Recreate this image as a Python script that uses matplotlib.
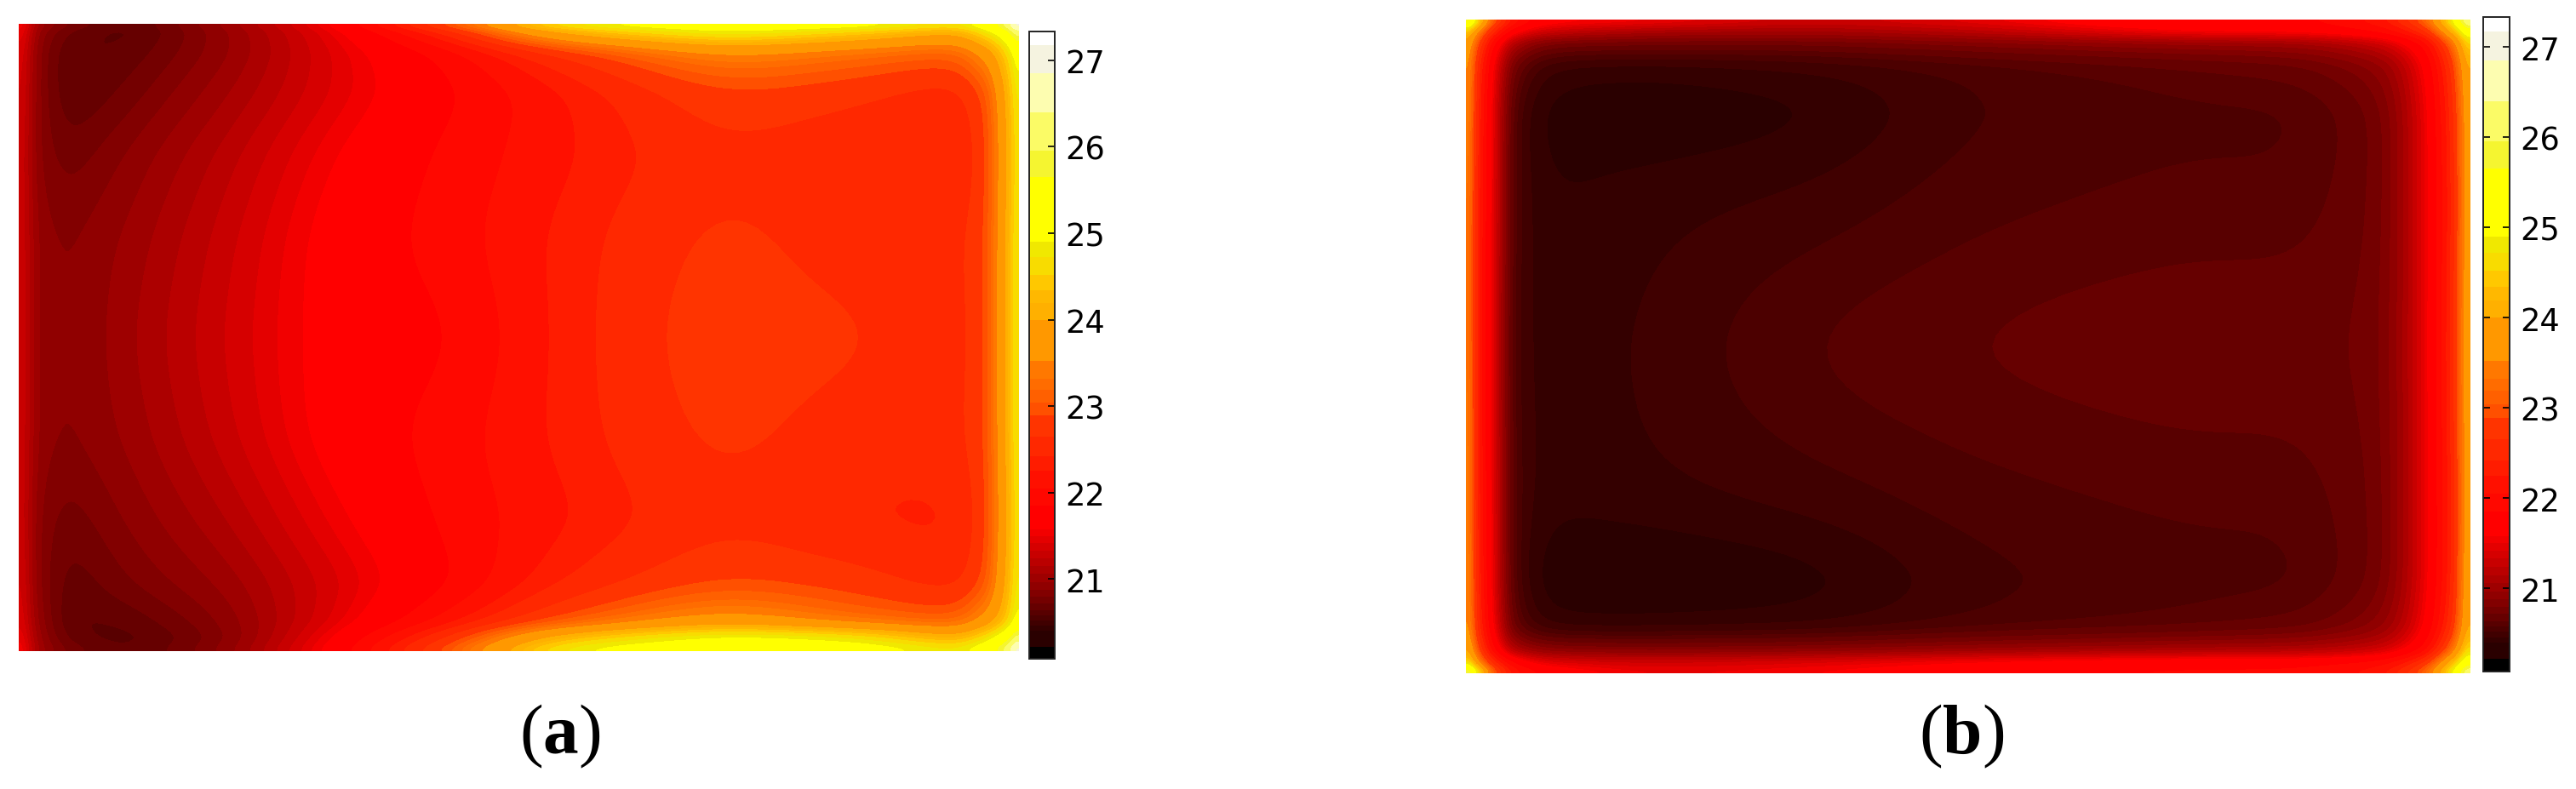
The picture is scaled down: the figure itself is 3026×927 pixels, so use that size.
#!/usr/bin/env python3
import numpy as np
import matplotlib
matplotlib.use('Agg')
import matplotlib.pyplot as plt
from matplotlib.colors import ListedColormap, BoundaryNorm

W, H = 3026, 928
UPSAMPLE = 14
HALF_WINDOW = 4

plt.rcParams['mathtext.fontset'] = 'custom'
plt.rcParams['mathtext.rm'] = 'Liberation Serif'
plt.rcParams['mathtext.bf'] = 'Liberation Serif:bold'

# colour bands
levels = [20.08, 20.22, 20.40, 20.46, 20.52, 20.58, 20.64, 20.72, 20.80, 20.88, 20.97,
          21.06, 21.15, 21.24, 21.33, 21.42, 21.50, 21.58, 21.85, 22.05, 22.25, 22.42,
          22.65, 22.89, 23.04, 23.19, 23.32, 23.52, 24.00, 24.19, 24.34, 24.52, 24.72,
          24.90, 25.65, 25.95, 26.40, 26.85, 27.17, 27.33]
colors = ['#000000', '#2a0000', '#340000', '#400000', '#4c0000', '#580000', '#660000',
          '#740000', '#820000', '#900000', '#9e0000', '#ac0000', '#ba0000', '#c80000',
          '#d60000', '#e40000', '#f20000', '#ff0000', '#ff0800', '#ff1000', '#ff1c00',
          '#ff2800', '#ff3400', '#ff5000', '#ff6000', '#ff6c00', '#ff7800', '#ff9800',
          '#ffb000', '#ffb800', '#ffc800', '#f8dc00', '#f0e800', '#ffff00', '#f5f530',
          '#fbfb66', '#fdfdb0', '#f5f3e0', '#ffffff']
cbar_ticks = [21, 22, 23, 24, 25, 26, 27]

# panel (a): positions as fractions of the panel, temperatures per row
xa = [0, .02, .053, .112, .21, .32, .43, .54, .70, .835, .934, .967, .987, 1]
ya = [0, .015, .048, .11, .21, .344, .5, .656, .79, .89, .95, .977, 1]
temp_a = [
    [21.7, 21.0, 20.78, 20.62, 21.0, 21.6, 23.0, 24.9, 25.3, 25.2, 24.7, 25.3, 26.2, 27.4],
    [21.6, 20.9, 20.68, 20.6, 20.95, 21.5, 22.4, 24.0, 24.9, 24.4, 23.9, 24.6, 25.2, 26.2],
    [21.5, 20.85, 20.62, 20.66, 20.95, 21.45, 21.9, 22.6, 23.5, 23.2, 23.0, 23.6, 24.4, 25.2],
    [21.45, 20.85, 20.62, 20.75, 21.05, 21.45, 21.8, 22.2, 22.85, 22.7, 22.5, 22.9, 24.0, 24.9],
    [21.4, 20.85, 20.75, 20.9, 21.2, 21.6, 21.9, 22.2, 22.6, 22.45, 22.35, 22.8, 23.9, 24.8],
    [21.4, 20.92, 20.87, 21.0, 21.3, 21.7, 21.95, 22.3, 22.75, 22.5, 22.55, 22.85, 24.0, 24.9],
    [21.4, 20.92, 20.87, 21.05, 21.35, 21.7, 21.8, 22.3, 22.85, 22.7, 22.5, 22.85, 24.0, 24.9],
    [21.4, 20.92, 20.87, 21.0, 21.3, 21.7, 21.95, 22.3, 22.75, 22.5, 22.55, 22.85, 24.0, 24.9],
    [21.4, 20.85, 20.75, 20.9, 21.15, 21.55, 21.9, 22.2, 22.6, 22.4, 22.35, 22.8, 23.9, 24.8],
    [21.45, 20.85, 20.66, 20.8, 21.0, 21.4, 21.8, 22.4, 22.9, 22.75, 22.5, 22.9, 24.0, 24.9],
    [21.5, 20.9, 20.62, 20.66, 20.9, 21.45, 22.1, 22.9, 23.7, 23.2, 23.0, 23.6, 24.3, 25.1],
    [21.6, 20.95, 20.66, 20.6, 20.85, 21.6, 22.6, 24.2, 25.0, 24.7, 24.0, 24.6, 25.2, 26.2],
    [21.7, 21.0, 20.76, 20.62, 20.9, 21.7, 23.0, 25.0, 25.4, 25.3, 24.8, 25.3, 26.2, 27.4],
]

# panel (b)
xb = [0, .013, .026, .046, .079, .178, .343, .508, .706, .838, .917, .957, .983, 1]
yb = [0, .017, .036, .07, .142, .281, .5, .719, .858, .93, .964, .983, 1]
temp_b = [
    [26.4, 24.6, 23.2, 22.2, 21.7, 21.6, 21.3, 21.5, 21.9, 21.8, 22.2, 23.2, 25.0, 27.0],
    [24.6, 23.4, 22.5, 21.7, 21.3, 21.1, 21.05, 21.2, 21.6, 21.65, 21.9, 22.6, 24.2, 25.6],
    [24.0, 22.8, 21.9, 21.1, 20.75, 20.72, 20.72, 20.82, 20.95, 21.0, 21.3, 21.9, 23.2, 24.8],
    [23.8, 22.4, 21.6, 20.7, 20.44, 20.42, 20.46, 20.54, 20.62, 20.68, 20.9, 21.6, 22.7, 24.3],
    [23.7, 22.3, 21.5, 20.55, 20.36, 20.34, 20.38, 20.52, 20.56, 20.56, 20.74, 21.5, 22.5, 24.1],
    [23.6, 22.2, 21.5, 20.55, 20.4, 20.44, 20.48, 20.56, 20.6, 20.6, 20.74, 21.5, 22.4, 24.1],
    [23.6, 22.2, 21.45, 20.52, 20.42, 20.47, 20.6, 20.66, 20.7, 20.7, 20.76, 21.5, 22.5, 24.2],
    [23.7, 22.2, 21.5, 20.55, 20.42, 20.45, 20.5, 20.56, 20.6, 20.6, 20.74, 21.5, 22.4, 24.1],
    [23.7, 22.3, 21.5, 20.55, 20.34, 20.32, 20.36, 20.5, 20.55, 20.56, 20.74, 21.5, 22.4, 24.2],
    [23.8, 22.4, 21.6, 20.65, 20.42, 20.42, 20.44, 20.54, 20.6, 20.66, 20.9, 21.6, 22.6, 24.3],
    [24.2, 22.8, 21.9, 21.1, 20.85, 20.82, 20.85, 20.95, 21.05, 21.1, 21.3, 21.9, 23.2, 24.9],
    [24.8, 23.4, 22.5, 21.8, 21.4, 21.3, 21.4, 21.6, 21.75, 21.75, 21.9, 22.6, 24.2, 25.6],
    [26.6, 24.8, 23.2, 22.2, 21.8, 21.5, 21.6, 21.8, 21.9, 21.9, 22.2, 23.2, 25.0, 26.8],
]

cmap = ListedColormap(colors)
norm = BoundaryNorm(levels, cmap.N)


def px_axes(fig, left, top, right, bottom):
    return fig.add_axes([left / W, 1 - bottom / H, (right - left) / W, (bottom - top) / H])


def box(line, half, odd=False):
    # running mean, twice, with the ends mirrored so the line keeps its length
    size = 2 * half + 1
    for _ in range(2):
        head = line[1:half + 1][::-1]
        tail = line[-half - 1:-1][::-1]
        if odd:
            head = 2 * line[0] - head
            tail = 2 * line[-1] - tail
        padded = np.concatenate([head, line, tail])
        line = np.convolve(padded, np.ones(size) / size, mode='valid')
    return line


def fine_field(xs, ys, temps):
    # drawn smooth in grid index space, so the tight rim rows stay tight
    n = UPSAMPLE
    ci = np.linspace(0, len(xs) - 1, (len(xs) - 1) * n + 1)
    ri = np.linspace(0, len(ys) - 1, (len(ys) - 1) * n + 1)
    xf = box(np.interp(ci, np.arange(len(xs)), xs), HALF_WINDOW, odd=True)
    yf = box(np.interp(ri, np.arange(len(ys)), ys), HALF_WINDOW, odd=True)
    z = np.array(temps)
    z = np.array([np.interp(ci, np.arange(len(xs)), row) for row in z])
    z = np.array([np.interp(ri, np.arange(len(ys)), col) for col in z.T]).T
    z = np.array([box(row, HALF_WINDOW) for row in z])
    z = np.array([box(col, HALF_WINDOW) for col in z.T]).T
    return xf, yf, z


def plot_panel(fig, xs, ys, temps, rect, cbar_rect, label, label_x):
    ax = px_axes(fig, *rect)
    xf, yf, z = fine_field(xs, ys, temps)
    ax.contourf(xf, yf, z, levels=levels, cmap=cmap, norm=norm, extend='both', antialiased=False)
    ax.set_xlim(0, 1)
    ax.set_ylim(1, 0)
    ax.axis('off')

    cax = px_axes(fig, *cbar_rect)
    sm = plt.cm.ScalarMappable(norm=norm, cmap=cmap)
    cb = fig.colorbar(sm, cax=cax, ticks=cbar_ticks, spacing='proportional', drawedges=False)
    cb.minorticks_off()
    cb.outline.set_linewidth(1.4)
    cb.outline.set_edgecolor('#222222')
    cax.tick_params(axis='y', which='major', direction='in', left=True, right=True,
                    length=5.5, width=1.2, labelsize=26.5, pad=9, colors='black')
    cax.set_yticklabels([str(t) for t in cbar_ticks])

    fig.text(label_x / W, 1 - 885 / H, r'$(\mathbf{%s})$' % label, fontsize=60,
             ha='center', va='baseline', color='black')


fig = plt.figure(figsize=(W / 100, H / 100), dpi=100)
plot_panel(fig, xa, ya, temp_a, (22, 29, 1197, 766), (1209, 38, 1239, 775), 'a', 658)
plot_panel(fig, xb, yb, temp_b, (1722, 24, 2902, 792), (2917, 21, 2948, 790), 'b', 2304)
fig.savefig('out.png', dpi=100)
plt.close(fig)
